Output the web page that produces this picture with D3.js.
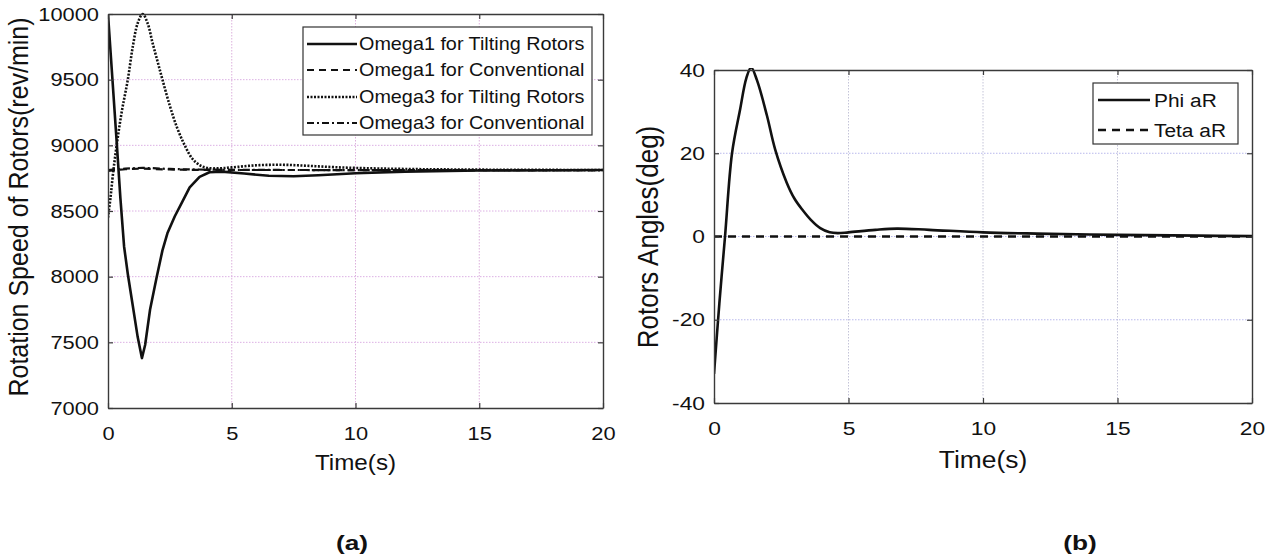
<!DOCTYPE html>
<html>
<head>
<meta charset="utf-8">
<script src="https://cdn.jsdelivr.net/npm/d3@7"></script>
<style>
  html, body { margin: 0; padding: 0; background: #fff; }
  svg { display: block; }
  text { font-family: "Liberation Sans", Arial, sans-serif; fill: #111; }
</style>
</head>
<body>
<svg id="fig" width="1275" height="560"></svg>
<script>
// ---- Panel (a): rotor speeds ----
const timeO1Tilt = [0, 0.36, 0.5, 0.65, 0.8, 1.0, 1.2, 1.37, 1.5, 1.7, 1.97, 2.2, 2.4, 2.7, 3.0, 3.3, 3.7, 4.1, 4.6, 5.5, 6.5, 7.5, 8.5, 10, 12, 15, 20];
const omega1Tilt = [10000, 9000, 8600, 8230, 8020, 7780, 7540, 7380, 7480, 7750, 8000, 8200, 8330, 8460, 8570, 8680, 8760, 8795, 8800, 8785, 8768, 8765, 8772, 8788, 8800, 8808, 8812];

const timeO1Conv = [0, 0.7, 1.4, 2.5, 4, 8, 20];
const omega1Conv = [8805, 8818, 8822, 8816, 8813, 8812, 8812];

const timeO3Tilt = [0, 0.1, 0.2, 0.35, 0.55, 0.8, 1.0, 1.2, 1.4, 1.6, 1.8, 2.0, 2.2, 2.5, 2.8, 3.1, 3.4, 3.7, 4.0, 4.5, 5, 6, 7, 8, 9, 10, 12, 15, 20];
const omega3Tilt = [8450, 8600, 8780, 9000, 9250, 9500, 9750, 9930, 10000, 9930, 9780, 9640, 9500, 9300, 9130, 9000, 8900, 8850, 8828, 8825, 8832, 8848, 8852, 8845, 8835, 8828, 8820, 8815, 8812];

const timeO3Conv = [0, 0.7, 1.4, 2.5, 4, 8, 20];
const omega3Conv = [8812, 8822, 8828, 8820, 8815, 8812, 8812];

const speedTicks = [7000, 7500, 8000, 8500, 9000, 9500, 10000];
const legendA = ["Omega1 for Tilting Rotors", "Omega1 for Conventional", "Omega3 for Tilting Rotors", "Omega3 for Conventional"];

// ---- Panel (b): rotor angles ----
const timePhi = [0, 0.2, 0.41, 0.67, 0.97, 1.2, 1.38, 1.6, 1.97, 2.27, 2.7, 3.0, 3.3, 3.6, 3.95, 4.3, 4.6, 5, 6, 6.8, 8, 10, 12, 15, 18, 20];
const phiAR = [-33, -16, 0, 20, 30.5, 38, 40.6, 37.5, 29, 21, 13, 9, 6.3, 4, 2, 1, 0.8, 1, 1.6, 1.9, 1.6, 1.0, 0.7, 0.4, 0.2, 0.1];
const timeTeta = [0, 20];
const tetaAR = [0, 0];

const angleTicks = [-40, -20, 0, 20, 40];
const legendB = ["Phi aR", "Teta aR"];
const timeTicks = [0, 5, 10, 15, 20];

const svg = d3.select("#fig");
const INK = "#111";
const AXIS = "#3a3a3a";
const plain = d => String(d);

// horizontally widen a text node about its own anchor
function widen(sel, k) {
  sel.each(function () {
    const t = d3.select(this);
    const x = +(t.attr("x") || 0);
    t.attr("x", x / k).attr("transform", `scale(${k},1)`);
  });
}

function panel(cfg) {
  const x = d3.scaleLinear().domain([0, 20]).range([cfg.left, cfg.right]);
  const y = d3.scaleLinear().domain(cfg.yDomain).range([cfg.bottom, cfg.top]);
  const g = svg.append("g");

  g.append("rect")
    .attr("x", cfg.left).attr("y", cfg.top)
    .attr("width", cfg.right - cfg.left).attr("height", cfg.bottom - cfg.top)
    .attr("fill", "#fff");

  // dotted grid
  g.append("g").selectAll("line").data(timeTicks.slice(1, -1)).join("line")
    .attr("x1", d => x(d)).attr("x2", d => x(d))
    .attr("y1", cfg.top).attr("y2", cfg.bottom)
    .attr("stroke", cfg.gridV).attr("stroke-width", 1).attr("stroke-dasharray", "1.5,1.5");
  g.append("g").selectAll("line").data(cfg.yTicks.slice(1, -1)).join("line")
    .attr("x1", cfg.left).attr("x2", cfg.right)
    .attr("y1", d => y(d)).attr("y2", d => y(d))
    .attr("stroke", cfg.gridH).attr("stroke-width", 1).attr("stroke-dasharray", "1.5,1.5");

  // series
  const clipId = "clip-" + cfg.id;
  svg.append("clipPath").attr("id", clipId).append("rect")
    .attr("x", cfg.left).attr("y", cfg.top - 2)
    .attr("width", cfg.right - cfg.left).attr("height", cfg.bottom - cfg.top + 4);
  const lines = g.append("g").attr("clip-path", `url(#${clipId})`);
  cfg.series.forEach(s => {
    const pts = s.t.map((t, i) => [t, s.v[i]]);
    const line = d3.line().x(d => x(d[0])).y(d => y(d[1])).curve(s.curve || d3.curveCatmullRom.alpha(0.5));
    lines.append("path").datum(pts)
      .attr("d", line)
      .attr("fill", "none")
      .attr("stroke", INK)
      .attr("stroke-width", s.width)
      .attr("stroke-dasharray", s.dash)
      .attr("stroke-linejoin", "round");
  });

  // boxed axes with inward ticks
  const bottom = g.append("g").attr("transform", `translate(0,${cfg.bottom})`)
    .call(d3.axisBottom(x).tickValues(timeTicks).tickFormat(plain).tickSizeInner(-5).tickSizeOuter(0).tickPadding(19));
  const left = g.append("g").attr("transform", `translate(${cfg.left},0)`)
    .call(d3.axisLeft(y).tickValues(cfg.yTicks).tickFormat(plain).tickSizeInner(-5).tickSizeOuter(0).tickPadding(9));
  g.append("g").attr("transform", `translate(0,${cfg.top})`)
    .call(d3.axisTop(x).tickValues(timeTicks).tickSizeInner(-5).tickSizeOuter(0).tickFormat(""));
  g.append("g").attr("transform", `translate(${cfg.right},0)`)
    .call(d3.axisRight(y).tickValues(cfg.yTicks).tickSizeInner(-5).tickSizeOuter(0).tickFormat(""));
  g.selectAll(".domain").attr("stroke", AXIS).attr("stroke-width", 1.4);
  g.selectAll(".tick line").attr("stroke", AXIS).attr("stroke-width", 1.2);
  [bottom, left].forEach(a => {
    a.selectAll("text")
      .attr("font-family", "Liberation Sans, Arial, sans-serif")
      .attr("font-size", cfg.tickSize).attr("fill", INK);
    widen(a.selectAll("text"), cfg.tickStretch);
  });

  // axis titles
  const xt = g.append("g").attr("transform", `translate(${(cfg.left + cfg.right) / 2},${cfg.xTitleY})`)
    .append("text").attr("text-anchor", "middle")
    .attr("font-size", cfg.xTitleSize).text("Time(s)");
  widen(xt, 1.1);
  g.append("g").attr("transform", `translate(${cfg.yTitleX},${cfg.yTitleY}) rotate(-90) scale(1,1.1)`)
    .append("text").attr("text-anchor", "middle")
    .attr("font-size", cfg.yTitleSize).text(cfg.yTitle);

  // legend
  const L = cfg.legend;
  const lg = g.append("g");
  lg.append("rect").attr("x", L.x0).attr("y", L.y0)
    .attr("width", L.x1 - L.x0).attr("height", L.y1 - L.y0)
    .attr("fill", "#fff").attr("stroke", "#333").attr("stroke-width", 1.2);
  L.labels.forEach((lab, i) => {
    const s = cfg.series[i];
    const yy = L.rows[i];
    lg.append("line").attr("x1", L.sx0).attr("x2", L.sx1).attr("y1", yy).attr("y2", yy)
      .attr("stroke", INK).attr("stroke-width", s.width).attr("stroke-dasharray", s.dash);
    const t = lg.append("g").attr("transform", `translate(${L.tx},${yy})`)
      .append("text").attr("dy", "0.36em").attr("font-size", L.size).text(lab);
    widen(t, 1.1);
  });
}

panel({
  id: "a", left: 108, right: 603, top: 14, bottom: 408,
  yDomain: [7000, 10000], yTicks: speedTicks,
  gridV: "#dcb0dc", gridH: "#dcb0e4",
  tickSize: 19, tickStretch: 1.15,
  xTitleY: 470, xTitleSize: 22,
  yTitle: "Rotation Speed of Rotors(rev/min)", yTitleX: 28, yTitleY: 207, yTitleSize: 25,
  series: [
    { t: timeO1Tilt, v: omega1Tilt, width: 2.6, dash: null, curve: d3.curveLinear },
    { t: timeO1Conv, v: omega1Conv, width: 2.2, dash: "7,5" },
    { t: timeO3Tilt, v: omega3Tilt, width: 2.6, dash: "2,1.5" },
    { t: timeO3Conv, v: omega3Conv, width: 2.2, dash: "7,3,2,3" }
  ],
  legend: {
    x0: 303, x1: 592, y0: 27, y1: 135, rows: [44, 70, 97, 123],
    sx0: 307, sx1: 357, tx: 359, size: 18, labels: legendA
  }
});

panel({
  id: "b", left: 714, right: 1252, top: 70, bottom: 403,
  yDomain: [-40, 40], yTicks: angleTicks,
  gridV: "#c4c4d8", gridH: "#b8b8ec",
  tickSize: 19, tickStretch: 1.2,
  xTitleY: 468, xTitleSize: 24,
  yTitle: "Rotors Angles(deg)", yTitleX: 658, yTitleY: 237, yTitleSize: 26,
  series: [
    { t: timePhi, v: phiAR, width: 2.6, dash: null },
    { t: timeTeta, v: tetaAR, width: 2.4, dash: "8,6" }
  ],
  legend: {
    x0: 1093, x1: 1238, y0: 83, y1: 144, rows: [100, 130],
    sx0: 1098, sx1: 1150, tx: 1154, size: 19, labels: legendB
  }
});

// panel captions
[["(a)", 352], ["(b)", 1080]].forEach(([lab, cx]) => {
  svg.append("g").attr("transform", `translate(${cx},550) scale(1.25,1)`)
    .append("text").attr("text-anchor", "middle")
    .attr("font-family", "Liberation Serif, Times New Roman, serif")
    .attr("font-weight", "bold").attr("font-size", 21).text(lab);
});
</script>
</body>
</html>
